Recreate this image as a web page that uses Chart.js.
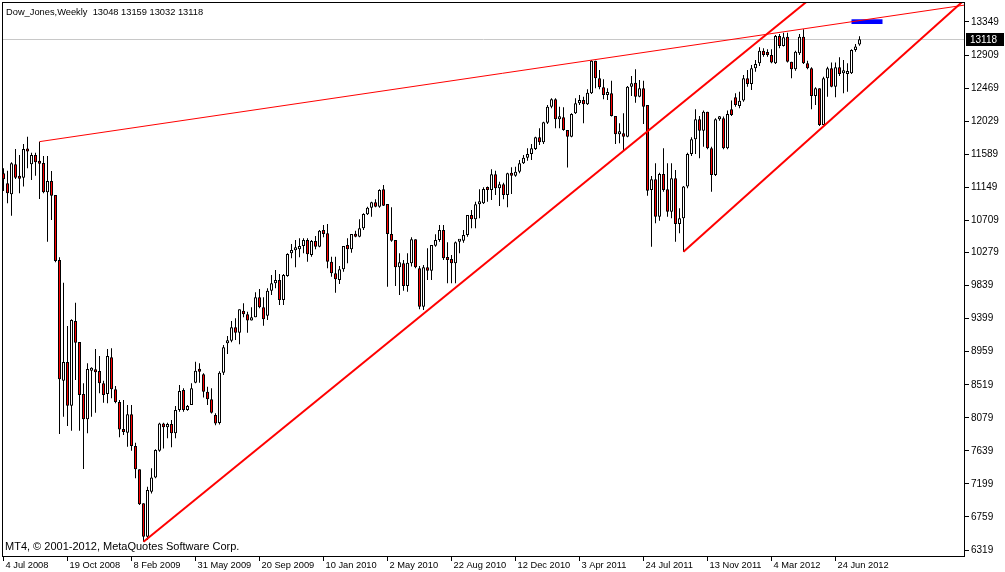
<!DOCTYPE html>
<html>
<head>
<meta charset="utf-8">
<script src="https://cdn.jsdelivr.net/npm/chart.js@4.4.0/dist/chart.umd.min.js"></script>
<style>
html, body { margin: 0; padding: 0; background: #fff; }
#wrap { width: 1005px; height: 572px; position: relative; }
</style>
</head>
<body>
<div id="wrap"><canvas id="grafico"></canvas></div>
<script>
// weekly candles, bar 0 = 4 Jul 2008
const opens = [
11334,11201,11054,11454,11299,11276,11658,11454,11578,11485,11472,11081,11232,11046,10180,8574,8822,8241,9368,9089,
8396,8059,8707,8716,8702,8538,8396,8884,8458,8289,7916,7881,8125,7703,7393,6940,6496,7095,7286,7641,
8005,7952,7996,7872,8183,8449,8183,8249,8547,8715,8658,8427,8325,8116,8010,8680,9071,9106,9284,9213,
9506,9457,9373,9417,9683,9550,9439,9772,9869,9914,9648,9967,10269,10309,10322,10367,10446,10247,10433,10358,
10580,10535,10158,10003,9914,10056,10380,10322,10526,10491,10602,10788,10877,10948,10890,11121,10926,10526,10447,10083,
10136,9834,10136,10456,10069,9559,10083,10038,10371,10447,10580,10203,10194,10136,10424,10438,10513,10779,10722,10921,
10934,11126,11112,11321,11134,11188,11046,11334,11303,11356,11467,11543,11592,11658,11813,11747,12009,12222,12319,12053,
12080,11911,11822,12133,12266,12311,12253,12399,12834,12599,12479,12377,12399,12098,11853,11867,11822,12488,12541,12355,
12466,12244,11112,11254,10757,11325,11121,10824,11268,10660,10735,11157,11592,11787,12053,11902,12155,11667,11312,12053,
12066,11667,12186,12346,12230,12302,12599,12523,12732,12799,12967,12932,12910,12799,13163,13030,13154,12821,12719,12932,
13154,12799,12732,12364,12466,11978,12599,12732,12488,12745,12666,12657,12666,12976,13048];
const highs = [
11401,11370,11481,11658,11578,11725,11822,11609,11609,11756,11565,11565,11365,11046,10216,9878,9301,9390,9612,9089,
8538,8804,8751,8995,8902,8574,8995,9004,8502,8316,8316,8249,8249,7748,7393,6940,7162,7406,7659,8014,
8014,8014,8050,8236,8516,8471,8249,8538,8826,8804,8671,8493,8471,8140,8700,9050,9168,9368,9404,9523,
9603,9492,9550,9750,9794,9683,9803,9981,10047,9994,9994,10269,10393,10446,10469,10469,10469,10446,10500,10580,
10646,10660,10225,10225,10100,10367,10469,10526,10571,10722,10802,10890,10957,10988,11121,11179,10926,10881,10447,10269,
10180,10269,10482,10456,10100,10114,10335,10380,10522,10646,10646,10416,10247,10425,10447,10580,10779,10846,10957,11121,
11148,11157,11387,11370,11223,11210,11343,11414,11423,11512,11578,11667,11725,11822,11933,12022,12244,12333,12333,12222,
12213,11911,12133,12333,12377,12355,12452,12843,12834,12710,12586,12466,12568,12098,12000,12133,12497,12630,12719,12577,
12568,12244,11299,11467,11343,11667,11467,11467,11378,10868,11166,11609,11813,12186,12098,12169,12155,11689,12066,12098,
12089,12169,12302,12399,12421,12643,12710,12776,12843,13012,12998,12985,12985,13176,13189,13207,13207,12821,12967,13189,
13251,12834,12745,12479,12466,12621,12754,12808,12808,12879,12843,12799,12985,13056,13159];
const lows = [
11099,10935,10770,11259,11068,11157,11401,11245,11303,10992,11068,10424,10713,10149,7863,8094,7970,7908,8582,7908,
7398,7872,8094,8148,8405,8281,8272,8338,8272,7819,7850,7695,7641,7273,6918,6430,6452,7073,7273,7628,
7672,7806,7686,7806,8161,8161,8174,8249,8538,8547,8351,8249,8138,7980,7990,8650,8929,9084,9115,9057,
9417,9213,9373,9417,9537,9306,9381,9714,9803,9581,9581,9958,10202,10083,10216,10269,10158,10225,10322,10349,
10482,10069,9958,9745,9861,10025,10136,10278,10482,10482,10580,10779,10757,10881,10877,10899,9825,10424,9834,9714,
9772,9759,10092,10069,9523,9515,9914,9914,10358,10424,10180,9870,9870,9870,10269,10411,10491,10602,10602,10735,
10926,10957,10979,11046,10899,10988,10881,11059,11290,11334,11458,11503,11512,11645,11711,11725,11991,12200,11933,11933,
11902,11410,11813,12124,12244,12000,12244,12390,12466,12452,12319,12311,12089,11725,11734,11645,11813,12364,12275,12346,
11991,11037,10358,10669,10704,11090,10757,10735,10424,10535,10291,11134,11565,11592,11534,11689,11653,11090,11299,12035,
11653,11653,12098,12222,12200,12288,12488,12444,12688,12763,12887,12887,12799,12790,12998,13021,12808,12599,12701,12910,
12790,12719,12186,12244,11964,11978,12355,12479,12346,12630,12399,12421,12657,12954,13032];
const closes = [
11254,11068,11467,11276,11263,11658,11623,11578,11481,11463,11081,11232,11037,10167,8591,8822,8241,9381,9080,8383,
8059,8729,8738,8685,8538,8383,8902,8458,8289,7925,7890,8125,7703,7393,6927,6496,7118,7286,7650,8005,
7952,7996,7872,8183,8436,8183,8236,8471,8706,8693,8427,8325,8147,8005,8680,9017,9111,9284,9213,9523,
9457,9373,9417,9683,9550,9390,9772,9869,9914,9648,9981,10260,10313,10313,10367,10446,10256,10433,10358,10571,
10526,10158,10003,9923,10056,10367,10322,10526,10491,10602,10793,10877,10948,10890,11112,10904,10526,10438,10083,10149,
9834,10145,10456,10083,9559,10083,10038,10380,10447,10580,10203,10180,10136,10416,10438,10513,10779,10722,10921,10934,
11126,11112,11321,11134,11188,11046,11334,11303,11356,11467,11543,11591,11667,11813,11747,12013,12222,12319,12053,12080,
11911,11822,12124,12266,12311,12253,12408,12834,12599,12479,12377,12408,12098,11853,11867,11822,12488,12532,12355,12466,
12222,11103,11254,10757,11325,11112,10824,11268,10660,10735,11157,11592,11787,12053,11902,12155,11667,11312,12053,12066,
11667,12124,12111,12244,12300,12599,12523,12732,12790,12967,12910,12910,12808,13163,13030,13145,12821,12719,12954,13154,
12799,12732,12364,12466,11978,12599,12732,12488,12745,12657,12674,12674,12976,13021,13118];

const dateTickIdx = [0, 16, 32, 48, 64, 80, 96, 112, 128, 144, 160, 176, 192, 208];
const dateTickLabels = ['4 Jul 2008', '19 Oct 2008', '8 Feb 2009', '31 May 2009', '20 Sep 2009', '10 Jan 2010',
  '2 May 2010', '22 Aug 2010', '12 Dec 2010', '3 Apr 2011', '24 Jul 2011', '13 Nov 2011', '4 Mar 2012', '24 Jun 2012'];
const priceTicks = [13349, 12909, 12469, 12029, 11589, 11149, 10709, 10279, 9839, 9399, 8959, 8519, 8079, 7639, 7199, 6759, 6319];
const lastPrice = 13118;
const titleText = 'Dow_Jones,Weekly  13048 13159 13032 13118';
const footText = 'MT4, \u00a9 2001-2012, MetaQuotes Software Corp.';

// trend lines: [bar index, price]
const trendThin = [[9, 11756], [240.4, 13575]];
const trendA = [[35, 6430], [205, 13802]];
const trendB = [[170, 10291], [245, 13870]];
const boxIdx = [212, 219.75];
const boxPrice = [13322, 13385];

const idx = opens.map((v, i) => i);
const wicks = idx.map(i => ({ x: i, y: [lows[i], highs[i]] }));
const bodies = idx.map(i => ({ x: i, y: [opens[i], closes[i]] }));
const bodyColors = idx.map(i => closes[i] < opens[i] ? '#ff0000' : '#ffffff');
const pts = a => a.map(p => ({ x: p[0], y: p[1] }));

const FONT = '"Liberation Sans", Arial, sans-serif';
Chart.defaults.font.family = FONT;
Chart.defaults.font.size = 10;
Chart.defaults.color = '#000';

const mt4Extras = {
  id: 'mt4Extras',
  beforeDatasetsDraw(chart) {
    const { ctx, chartArea: a, scales: { x, y } } = chart;
    ctx.save();
    const ly = Math.round(y.getPixelForValue(lastPrice)) + 0.5;
    ctx.strokeStyle = '#c8c8c8';
    ctx.lineWidth = 1;
    ctx.beginPath();
    ctx.moveTo(a.left, ly);
    ctx.lineTo(a.right, ly);
    ctx.stroke();
    const bx0 = x.getPixelForValue(boxIdx[0]), bx1 = x.getPixelForValue(boxIdx[1]);
    const by0 = y.getPixelForValue(boxPrice[1]), by1 = y.getPixelForValue(boxPrice[0]);
    ctx.fillStyle = '#0000ff';
    ctx.fillRect(bx0, by0, bx1 - bx0, by1 - by0);
    ctx.restore();
  },
  afterDraw(chart) {
    const { ctx, chartArea: a, scales: { y } } = chart;
    ctx.save();
    ctx.strokeStyle = '#000';
    ctx.lineWidth = 1;
    ctx.strokeRect(a.left + 0.5, a.top + 0.5, a.right - a.left - 1, a.bottom - a.top - 1);
    ctx.textBaseline = 'middle';
    ctx.fillStyle = '#000';
    ctx.font = '9.3px ' + FONT;
    ctx.fillText(titleText, 6, 12);
    ctx.font = '11px ' + FONT;
    ctx.fillText(footText, 5, 547);
    const ly = Math.round(y.getPixelForValue(lastPrice));
    ctx.fillRect(a.right + 1, ly - 6, 38, 13);
    ctx.fillStyle = '#fff';
    ctx.font = '10px ' + FONT;
    ctx.fillText(String(lastPrice), a.right + 5, ly + 1);
    ctx.restore();
  }
};

new Chart(document.getElementById('grafico'), {
  type: 'bar',
  data: {
    datasets: [
      { type: 'line', data: pts(trendThin), borderColor: '#ff0000', borderWidth: 1, pointRadius: 0, fill: false, order: 0 },
      { type: 'line', data: pts(trendA), borderColor: '#ff0000', borderWidth: 2, pointRadius: 0, fill: false, order: 0 },
      { type: 'line', data: pts(trendB), borderColor: '#ff0000', borderWidth: 2, pointRadius: 0, fill: false, order: 0 },
      { data: bodies, backgroundColor: bodyColors, borderColor: '#000', borderWidth: 1, borderSkipped: false,
        barThickness: 3, maxBarThickness: 3, minBarLength: 3, grouped: false, inflateAmount: 0, order: 1 },
      { data: wicks, backgroundColor: '#000', borderWidth: 0,
        barThickness: 1, maxBarThickness: 1, minBarLength: 1, grouped: false, inflateAmount: 0, order: 2 }
    ]
  },
  options: {
    responsive: true,
    maintainAspectRatio: false,
    animation: false,
    layout: { padding: { left: 2, top: 2, right: 0, bottom: 0 } },
    plugins: { legend: { display: false }, tooltip: { enabled: false } },
    scales: {
      x: {
        type: 'linear',
        offset: false,
        min: -0.375,
        max: 240.375,
        border: { display: false },
        grid: { display: true, drawOnChartArea: false, drawTicks: true, tickLength: 4, color: '#000', offset: false },
        ticks: {
          autoSkip: false, maxRotation: 0, align: 'start', labelOffset: 2, padding: -1,
          font: { size: 9.3 },
          callback: (v, i) => dateTickLabels[i]
        },
        afterBuildTicks: s => { s.ticks = dateTickIdx.map(v => ({ value: v })); },
        afterFit: s => { s.height = 15; s.paddingLeft = 0; s.paddingRight = 0; }
      },
      y: {
        position: 'right',
        min: 6226,
        max: 13615,
        border: { display: false },
        grid: { display: true, drawOnChartArea: false, drawTicks: true, tickLength: 4, color: '#000' },
        ticks: { autoSkip: false, padding: 2, callback: v => String(v) },
        afterBuildTicks: s => { s.ticks = priceTicks.map(v => ({ value: v })); },
        afterFit: s => { s.width = 40; s.paddingTop = 0; s.paddingBottom = 0; }
      }
    }
  },
  plugins: [mt4Extras]
});
</script>
</body>
</html>
